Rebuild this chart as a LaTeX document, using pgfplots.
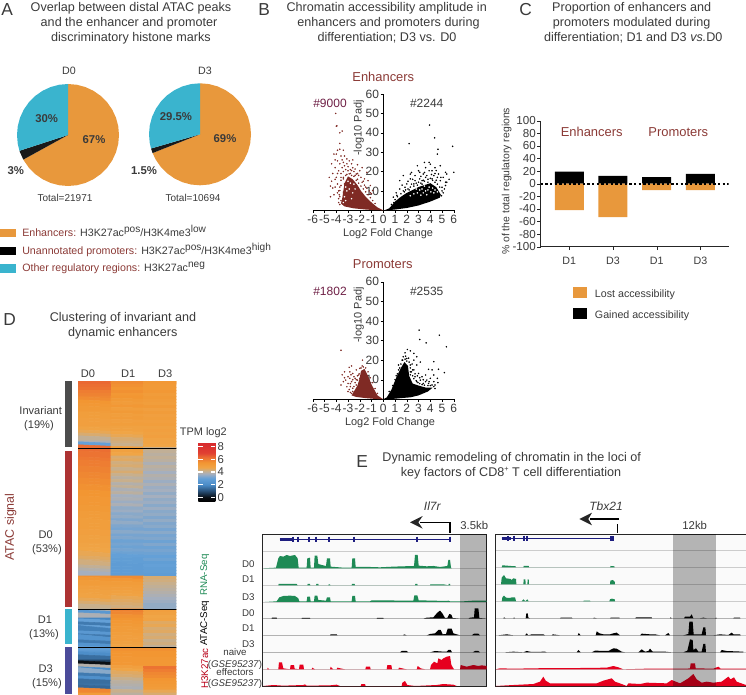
\documentclass[border=0pt]{standalone}
\usepackage{fontspec}
\setmainfont{Liberation Sans}
\usepackage{pgfplots}
\pgfplotsset{compat=1.18}
\definecolor{txt}{HTML}{3A3A3A}
\definecolor{orng}{HTML}{E8983C}
\definecolor{cyn}{HTML}{3AB4CE}
\definecolor{brn}{HTML}{8B3A36}
\definecolor{prp}{HTML}{6E1F45}
\definecolor{volc}{HTML}{7F2A24}
\definecolor{navy}{HTML}{1E1E80}
\definecolor{grn}{HTML}{1E8A55}
\definecolor{rd}{HTML}{E6001E}
\newcommand\fs[1]{\fontsize{#1}{#1}\selectfont}
% small raised text, nearly full size as in the figure
\newcommand\sps[1]{\raisebox{0.42em}{\fs{7.6}#1}}
\newcommand\T[4][]{\node[anchor=base,#1] at (#2,#3) {#4};}
% axis box given in pixels of the reference: left, top, right, bottom
\pgfplotsset{
  box/.style n args={4}{scale only axis, anchor=south west,
    at={(#1*0.75pt,{(694-#4)*0.75pt})},
    width=#3*0.75pt-#1*0.75pt, height=#4*0.75pt-#2*0.75pt},
  pie/.style={hide axis, xmin=-1, xmax=1, ymin=-1, ymax=1},
  volcano/.style={xmin=-6, xmax=6, ymin=0, ymax=60,
    axis x line=bottom, axis y line=center, axis line style={-, line width=0.7pt},
    tick align=outside, major tick length=2pt, tick style={black},
    xtick={-6,...,6}, ytick={10,20,...,60},
    hide obscured x ticks=false, hide obscured y ticks=false,
    xlabel={}, ylabel={}, xticklabel style={yshift=-0.5pt},
    tick label style={font=\fs{9}, text=txt, inner sep=1pt},
    /pgf/number format/assume math mode=true, clip=false},
  spots/.style={only marks, mark=*, mark size=0.35pt, #1, mark options={draw=none, fill=#1}},
  track/.style={#1, fill=#1, draw=none, forget plot},
  panel/.style={xtick=\empty, ymin=433, ymax=888, y dir=reverse,
    ymajorgrids, major tick length=0pt, yticklabels={},
    grid style={gray!40, line width=0.4pt},
    axis line style={gray!30!black, line width=0.7pt},
    axis background/.style={fill=white!98!black}},
  colormap={atac}{
    rgb255(0cm)=(0,0,0); rgb255(0.7cm)=(10,15,20); rgb255(1.7cm)=(40,80,120);
    rgb255(2.7cm)=(74,140,200); rgb255(3.7cm)=(100,160,215); rgb255(4.4cm)=(165,175,190);
    rgb255(4.9cm)=(200,175,140); rgb255(5.4cm)=(240,165,70); rgb255(6.2cm)=(242,150,50);
    rgb255(7cm)=(235,110,50); rgb255(7.7cm)=(225,65,50); rgb255(9.4cm)=(215,40,45)},
}
\begin{document}
\begin{tikzpicture}[x=0.75pt,y=0.75pt]
\path[use as bounding box] (0,0) rectangle (746,694);

% --- A: pies, slices as outline points (fractions 67/3/30 and 69/1.5/29.5)
\begin{axis}[box={17}{84}{119}{186}, pie]
\addplot[fill=orng,draw=none] coordinates {(0,0)(0,1)(.174,.985)(.342,.94)(.5,.866)(.643,.766)(.766,.643)(.866,.5)(.94,.342)(.985,.174)(1,0)(.985,-.174)(.94,-.342)(.866,-.5)(.766,-.643)(.643,-.766)(.5,-.866)(.342,-.94)(.174,-.985)(0,-1)(-.174,-.985)(-.342,-.94)(-.5,-.866)(-.643,-.766)(-.766,-.643)(-.866,-.5)(-.876,-.482)};
\addplot[fill=black!90,draw=none] coordinates {(0,0)(-.876,-.482)(-.94,-.342)(-.951,-.309)};
\addplot[fill=cyn,draw=none] coordinates {(0,0)(-.951,-.309)(-.985,-.174)(-1,0)(-.985,.174)(-.94,.342)(-.866,.5)(-.766,.643)(-.643,.766)(-.5,.866)(-.342,.94)(-.174,.985)(0,1)};
\end{axis}
\begin{axis}[box={149}{83.3}{251}{185.3}, pie]
\addplot[fill=orng,draw=none] coordinates {(0,0)(0,1)(.174,.985)(.342,.94)(.5,.866)(.643,.766)(.766,.643)(.866,.5)(.94,.342)(.985,.174)(1,0)(.985,-.174)(.94,-.342)(.866,-.5)(.766,-.643)(.643,-.766)(.5,-.866)(.342,-.94)(.174,-.985)(0,-1)(-.174,-.985)(-.342,-.94)(-.5,-.866)(-.643,-.766)(-.766,-.643)(-.866,-.5)(-.93,-.368)};
\addplot[fill=black!90,draw=none] coordinates {(0,0)(-.93,-.368)(-.96,-.279)};
\addplot[fill=cyn,draw=none] coordinates {(0,0)(-.96,-.279)(-.985,-.174)(-1,0)(-.985,.174)(-.94,.342)(-.866,.5)(-.766,.643)(-.643,.766)(-.5,.866)(-.342,.94)(-.174,.985)(0,1)};
\end{axis}

% --- B: volcano plots; dense cores as outlines, sparse points read one by one
\begin{axis}[box={312.8}{94}{453.8}{210.3}, volcano]
\addplot[fill=volc,draw=none] coordinates {(0,0)(-.5,1.5)(-1,4)(-1.5,7)(-1.9,10)(-2.2,13)(-2.6,16)(-3,17.5)(-3.3,14)(-3.4,10)(-3.5,6)(-3.6,3.5)(-3.3,2)(-2.5,1)(-1.5,.4)(-.8,.1)};
\addplot[fill=black,draw=none] coordinates {(0.1,0)(.5,1)(1,4.5)(1.5,7)(2,9)(2.5,10.5)(3,12)(3.5,13)(4,14)(4.5,12)(4.9,8)(4.8,6.5)(4,4.5)(3,2.5)(2,1.2)(1,.4)(.3,0)};
\addplot[spots=volc] coordinates {(-4.05,50)(-3.95,43.6)(-3.7,40)(-4,43.4)(-3.5,40.9)(-3.7,34.5)(-4.2,29)(-4,29)(-3.6,28)(-3.9,25.5)(-3.3,28)(-2.9,25.5)(-3.4,24.7)(-4.1,22)(-3.8,20.4)(-3.1,24)(-2.7,24)(-4.3,19)(-4.6,17)(-4,17)(-3.6,19)(-3.4,16.2)(-3,20.4)(-3.9,13.6)(-3.6,12.8)(-3.3,13.6)(-3.7,10.2)(-3.6,5)(-3.4,9.4)(-1.4,19.6)(-1.1,12.8)(-1.6,16.2)(-1.3,15.3)(-2,20.4)(-2.3,18.7)(-2.4,21.3)(-.9,10.2)(-1,8.5)(-2.6,22)(-2.8,19)(-3.2,18)(-3.5,22)(-2.2,16)(-1.8,14.5)(-1.6,13)(-4.4,15)(-4.1,12)(-3.9,9)(-4.2,8)(-3.8,6)(-3.7,7)(-4.5,7)
(-3.1,18.5)(-2.9,18.8)(-2.7,18)(-2.5,17.5)(-2.3,15.5)(-2.1,14)(-1.9,12.5)(-1.7,11)(-1.5,9.5)(-1.3,8)(-1.1,6.5)(-.9,5)(-.7,3.5)(-3.4,17)(-3.6,15.5)(-3.7,12)(-3.8,10)(-3.75,8)(-3.8,4)(-3.7,3)(-2.2,19)(-2.5,20)(-2.8,21)(-3,22.5)(-3.2,21)(-3.4,20)(-3.6,17)(-3.9,19)(-4.1,16)(-4.3,11.5)(-4.5,12.5)(-1.2,10)(-1.5,12)(-1.9,17)(-2.1,18)(-1.7,15)(-1.4,11.5)(-1.1,9)(-2.4,18)(-2.7,20.5)(-3.3,23)(-3.7,24)(-3.1,26.5)(-2.6,26)(-2.2,23.5)(-1.8,22)(-4.4,24)(-3.9,31)(-3.4,31)(-3.7,31.5)(-4.1,26)(-3.5,26)};
\addplot[spots=white] coordinates {(-3.2,12)(-2.8,14)(-3,15)(-3.1,10)(-3.3,7)(-2.9,11)(-2.5,13.5)(-3.2,5)(-3.4,4)(-2.7,6)(-2.4,11)(-2.6,9)};
\addplot[spots=black] coordinates {(3.94,44)(4.37,37.4)(2.2,34.4)(5.9,33)(4.65,31.5)(4.6,29)(6,19.6)(3.9,24.7)(4.85,23)(2.9,23)(3.6,22)(4.15,20.4)(5.3,19.6)(2.3,18.7)(1.4,15.3)(1.7,17.9)(2,13.6)(2.7,17.9)(3.1,19.6)(3.4,18.7)(3.9,20.4)(4.3,17.9)(4.7,18.7)(4.85,15.3)(5.3,14.5)(5.1,17)(5.4,18.7)(5,11.9)(5.3,12.8)(4.4,22)(3.5,24.7)(4,23.8)(3,20.4)(2.3,16.2)(2.7,15.3)(3.1,16.2)(3.6,17)(4.15,16.2)(4.6,17)(1.4,11)(1.15,7.7)(.85,6.8)(1.85,11.9)(2.6,13.6)(3.3,15.3)(3.7,17.9)(5.4,14.5)(5.6,16)
(1,5.5)(1.2,7)(1.5,8.5)(1.7,10)(1.9,10.5)(2.1,11)(2.3,12)(2.4,13.5)(2.6,12.5)(2.8,14)(3,14.5)(3.2,14)(3.4,15.5)(3.5,15)(3.8,16)(4,16.5)(4.2,15.5)(4.4,14.5)(4.6,13.5)(4.8,12)(5,10)(5.1,9)(4.95,7.5)(5.2,11)(4.5,15.5)(3.8,14.5)(3.3,13.5)(2.9,13)(2.2,10.5)(1.8,9.5)(.7,3)(.9,4)(1.3,5.5)(2.5,16)(3.2,17.5)(3.5,19.5)(4.1,18.5)(4.4,19)(4.9,17)(4.5,20.5)(2.1,15)(2.4,19.5)(1.6,13)(1.1,9)};
\addplot[spots=white] coordinates {(2.9,9)(3.3,11)(3.6,10)(3.9,12)(4.2,11.5)(4.3,9)(3.5,12.5)(3.1,10.5)(2.6,8.5)(2.3,7.5)(3.8,10.5)(4.05,9.5)(3.4,9)(2.8,11)(4.4,10.5)(4.6,9.5)(3.7,8)(3.2,7.8)};
\end{axis}
\begin{axis}[box={312.8}{281.7}{453.8}{399.3}, volcano]
\addplot[fill=volc,draw=none] coordinates {(0,0)(-.5,2)(-1,7.5)(-1.3,12)(-1.6,15.5)(-1.9,14.5)(-2,11)(-2.2,7)(-2.5,4)(-2.7,2)(-2.3,1.2)(-1.5,.6)(-.7,.2)};
\addplot[fill=black,draw=none] coordinates {(0,0)(.3,1)(.7,5)(1.1,11)(1.5,16)(1.8,19)(2.1,17)(2.2,12)(2.5,8)(3,7)(3.6,6)(4.2,6)(3.8,4)(3,2)(2.3,1)(1.5,.6)(.8,.2)};
\addplot[spots=volc] coordinates {(-3.6,25)(-1.77,20)(-2.7,17)(-2.9,16.3)(-3.3,14)(-2.85,14)(-2.3,15)(-2,15.8)(-2.6,13.2)(-3,11.5)(-3.4,9)(-3.2,9.8)(-3.6,7.3)(-2.7,9)(-2.4,10.7)(-2.1,12.4)(-3,8.1)(-2.6,5.6)(-2.3,7.3)(-2.7,3)(-2.4,3.9)(-2,10.7)(-2.85,10.7)(-2.2,9.8)(-3.1,6.4)
(-1.5,16)(-1.3,14)(-1.1,11)(-.9,8.5)(-.7,5.5)(-.5,3)(-2.05,13)(-2.2,12)(-2.3,10)(-2.4,8.5)(-2.5,6.5)(-2.6,4)(-2.8,3.5)(-2.9,5)(-3,4)(-2.8,6.5)(-1.9,16)(-1.8,17)(-1.7,16.5)(-2.5,11.5)(-2.6,10)(-3.3,11)(-3.5,12.5)(-2.8,8)(-2.75,12.5)};
\addplot[spots=black] coordinates {(3.05,35.3)(4.77,32.7)(3.1,30.5)(3.65,28.8)(5.37,26.8)(2.05,25.4)(2.3,24.7)(1.85,23.7)(2.6,23.4)(2.85,21.7)(4.3,19.2)(3.85,15.3)(4.15,15)(4.7,15.3)(5.2,13.6)(4.3,12.4)(4.6,10.7)(3.15,19)(2.85,17.5)(2.6,20)(1.6,20)(1.3,17.5)(2.3,17.5)(2.6,15)(3,13.2)(3.3,11.5)(3.6,12.4)(4,10.7)(4.3,9)(4.4,7.3)(3.7,9.8)(3.15,9.8)(2.7,11.5)(2.3,14)(2,20.8)(1.7,21.7)(2.85,9)(3.4,8.1)(3.85,8.1)(4.15,7.3)(4.65,8.5)
(.5,4)(.8,7)(1,10)(1.2,13)(1.4,16)(1.5,18)(1.65,20)(1.85,20.5)(2,19.5)(2.2,19)(2.3,16)(2.4,14)(2.5,12)(2.6,10.5)(2.8,9.5)(2.95,8.5)(3.1,8)(3.3,7.5)(3.5,7.2)(3.8,7)(4,7)(4.3,6.5)(4.4,5.5)(2.3,12.5)(2.5,15)(2.7,13)(2.9,12)(3.1,11)(3.4,10)(3.6,9)(3.9,9)(1.9,22)(1.3,15)(1.1,12)(2.15,21)(2.45,18)};
\end{axis}

% --- C: bars
\begin{axis}[box={540.7}{120.7}{728.7}{246.7},
  xmin=-0.654, xmax=3.648, ymin=-100, ymax=100,
  axis x line=bottom, axis y line=left, axis line style={-, gray!30!black, line width=0.6pt},
  tick align=outside, major tick length=2.5pt, tick style={gray!30!black},
  xtick={0,1,2,3}, xticklabels={D1,D3,D1,D3}, ytick={-100,-80,...,100},
  xticklabel style={font=\fs{8}, text=txt, yshift=-1.5pt},
  yticklabel style={font=\fs{8.7}, text=txt, inner sep=1pt},
  /pgf/number format/assume math mode=true]
\addplot[ybar, bar width=21.75pt, bar shift=0pt, fill=black, draw=none] coordinates {(0,19)(1,12.5)(2,10.5)(3,15.5)};
\addplot[ybar, bar width=21.75pt, bar shift=0pt, fill=orng, draw=none] coordinates {(0,-42)(1,-53)(2,-10)(3,-10)};
\addplot[black, line width=1.3pt, dash pattern=on 1.8pt off 1.7pt] coordinates {(-0.654,0)(3.648,0)};
\end{axis}

% --- D: heat map, three values a row from the top (D0, D1, D3), rows 3 px high
\begin{axis}[box={78}{381}{176.3}{694},
  xmin=0.5, xmax=3.5, ymin=381, ymax=694, y dir=reverse,
  ticks=none, axis line style={draw=none}, clip=true,
  colormap name=atac, point meta min=-0.7, point meta max=8.7,
  colorbar, colorbar style={at={(parent axis.north east)}, anchor=north west,
    xshift=8pt, yshift=-46pt, width=12.75pt, height=44.5pt,
    y dir=normal, ytick={0,2,...,8}, tick style={white, line width=0.9pt},
    major tick length=3.5pt, tick align=inside, axis line style={draw=none},
    yticklabel style={font=\fs{8.5}, text=txt, inner sep=1.5pt},
    /pgf/number format/assume math mode=true}]
\addplot[matrix plot*, mesh/cols=3, point meta=\thisrowno{0}]
 table[row sep=\\, header=false, x expr={mod(\coordindex,3)+1}, y expr={382.5+3*floor(\coordindex/3)}] {
6.4\\5.7\\5.4\\ 6.3\\5.6\\5.3\\ 6.2\\5.5\\5.3\\ 6.0\\5.6\\5.4\\ 5.9\\5.4\\5.2\\ 5.8\\5.5\\5.3\\
5.7\\5.3\\5.2\\ 5.5\\5.2\\5.1\\ 5.4\\5.4\\5.3\\ 5.3\\5.1\\5.0\\ 5.2\\5.3\\5.2\\ 5.1\\5.1\\5.0\\
5.1\\5.2\\5.1\\ 5.0\\5.0\\5.0\\ 5.0\\5.1\\5.1\\ 4.9\\4.9\\4.9\\ 4.8\\4.9\\5.0\\ 4.6\\4.7\\4.9\\
4.4\\4.6\\5.0\\ 4.1\\4.4\\4.8\\ 3.8\\4.3\\4.8\\ 3.0\\4.2\\4.7\\
6.3\\5.0\\4.2\\ 6.3\\4.9\\4.1\\ 6.2\\4.7\\4.0\\ 6.2\\4.4\\4.1\\ 6.1\\4.5\\4.0\\ 6.0\\4.3\\3.8\\
6.0\\4.4\\4.0\\ 5.9\\4.2\\3.9\\ 5.9\\4.4\\3.7\\ 5.8\\4.2\\3.9\\ 5.8\\4.0\\3.8\\ 5.7\\4.2\\3.6\\
5.7\\3.9\\3.8\\ 5.6\\4.1\\3.6\\ 5.6\\3.8\\3.7\\ 5.5\\4.0\\3.5\\ 5.5\\3.7\\3.7\\ 5.4\\3.8\\3.5\\
5.4\\3.6\\3.6\\ 5.4\\3.8\\3.4\\ 5.3\\3.5\\3.6\\ 5.3\\3.6\\3.4\\ 5.2\\3.4\\3.5\\ 5.2\\3.5\\3.3\\
5.2\\3.3\\3.5\\ 5.1\\3.5\\3.3\\ 5.1\\3.3\\3.4\\ 5.1\\3.2\\3.2\\ 5.0\\3.4\\3.4\\ 5.0\\3.2\\3.2\\
4.9\\3.3\\3.3\\ 4.9\\3.1\\3.1\\ 4.8\\3.2\\3.3\\ 4.8\\3.1\\3.1\\ 4.7\\3.2\\3.2\\ 4.7\\3.1\\3.1\\
4.6\\3.0\\3.0\\ 4.5\\2.9\\3.1\\ 4.4\\2.9\\2.9\\ 4.3\\2.8\\3.0\\ 4.1\\2.8\\2.9\\ 3.9\\2.8\\2.9\\ 3.7\\2.8\\2.8\\
5.6\\5.7\\4.4\\ 5.4\\5.4\\4.3\\ 5.2\\5.2\\4.2\\ 5.1\\5.1\\4.1\\ 5.0\\5.0\\4.0\\ 4.9\\4.9\\3.9\\
4.9\\4.8\\3.8\\ 4.8\\4.6\\3.7\\ 4.6\\4.5\\3.6\\ 4.4\\4.4\\3.5\\ 4.2\\4.3\\3.5\\
3.9\\5.9\\5.0\\ 2.6\\5.8\\4.9\\ 3.8\\5.6\\4.7\\ 1.9\\5.5\\4.8\\ 3.0\\5.4\\4.5\\ 1.7\\5.3\\4.6\\
3.0\\5.2\\4.4\\ 1.8\\5.2\\4.5\\ 2.6\\5.1\\4.3\\ 1.7\\5.0\\4.4\\ 2.4\\5.0\\4.2\\ 1.7\\4.9\\4.3\\ 2.4\\4.8\\4.1\\
2.8\\5.6\\5.6\\ 2.5\\5.5\\5.5\\ 2.1\\5.5\\5.5\\ 1.5\\5.4\\5.4\\ 0.8\\5.4\\5.4\\ 0.0\\5.4\\5.4\\
3.9\\5.0\\6.2\\ 2.0\\4.7\\6.0\\ 3.4\\4.5\\5.8\\ 1.7\\4.4\\5.7\\ 2.2\\4.2\\5.5\\ 1.5\\4.0\\5.4\\ 1.6\\3.9\\5.3\\ 1.4\\3.8\\5.2\\
5.8\\4.2\\4.6\\ 5.2\\4.0\\4.4\\
};
\addplot[black, line width=0.7pt] coordinates {(0.5,448)(3.55,448)};
\addplot[black, line width=0.7pt] coordinates {(0.5,609)(3.55,609)};
\addplot[black, line width=0.7pt] coordinates {(0.5,647.5)(3.55,647.5)};
\end{axis}

% --- E: signal tracks; coordinates are positions inside the browser panel
\begin{axis}[box={262.3}{534.3}{486.7}{686}, panel, xmin=97, xmax=770,
  ytick={485,535,586,636,686,736,787,838}]
\addplot[track=grn] coordinates {(100,535)(138,533)(145,505)(150,498)(160,500)(170,495)(180,498)(195,495)(203,505)(206,533)(230,533)(232,505)(240,503)(242,533)(252,533)(254,497)(262,497)(265,522)(275,525)(288,528)(291,505)(300,505)(302,530)(340,533)(365,533)(367,505)(375,505)(377,531)(420,531)(450,532)(490,530)(520,529)(552,528)(555,495)(563,495)(566,527)(590,529)(610,528)(630,531)(652,528)(655,510)(660,510)(663,533)(665,535)};
\addplot[track=grn] coordinates {(145,586)(146,582)(200,582)(203,586)(232,586)(233,582)(240,582)(241,586)(258,586)(259,582)(265,582)(266,586)(295,586)(296,583)(300,583)(301,586)(365,586)(366,582)(374,582)(375,586)(555,586)(556,582)(562,582)(563,586)(600,586)(601,583)(640,583)(655,586)(656,582)(660,582)(661,586)};
\addplot[track=grn] coordinates {(105,636)(140,634)(148,622)(160,618)(180,617)(195,618)(205,625)(208,634)(230,634)(232,620)(240,620)(242,634)(252,634)(254,617)(262,617)(265,630)(288,632)(291,622)(300,622)(302,634)(365,634)(367,618)(375,618)(377,634)(420,634)(425,631)(550,632)(553,616)(562,616)(566,631)(650,633)(655,632)(660,634)(700,634)(730,632)(770,632)(770,636)};
\addplot[track=black] coordinates {(100,686)(125,686)(126,683)(140,683)(141,686)(215,686)(216,684)(240,684)(241,686)(440,686)(441,684)(460,684)(461,686)(580,686)(590,683)(610,682)(622,668)(630,662)(637,670)(645,684)(652,684)(658,672)(664,674)(668,684)(690,686)(715,686)(720,683)(732,682)(734,655)(745,655)(748,684)(770,686)};
\addplot[track=black] coordinates {(100,736)(300,736)(302,733)(320,733)(322,736)(520,736)(522,733)(530,736)(590,736)(600,732)(615,730)(625,720)(632,720)(638,733)(648,732)(653,716)(665,716)(670,730)(690,736)(725,736)(732,731)(745,731)(750,736)};
\addplot[track=black] coordinates {(100,787)(510,787)(515,783)(530,783)(535,787)(600,787)(615,783)(640,785)(650,785)(655,780)(662,780)(666,787)(728,787)(735,783)(745,783)(750,787)};
\addplot[track=rd] coordinates {(100,838)(112,838)(113,833)(118,838)(145,838)(147,817)(156,817)(160,835)(180,838)(182,825)(192,825)(194,836)(207,838)(209,824)(220,824)(222,838)(245,838)(247,833)(255,838)(300,838)(302,830)(310,838)(320,838)(322,833)(345,838)(406,838)(408,830)(420,830)(422,838)(470,838)(472,825)(484,825)(486,838)(505,838)(507,833)(530,838)(560,838)(563,828)(572,835)(585,838)(600,838)(603,825)(612,815)(622,820)(625,805)(635,810)(640,805)(650,800)(660,798)(664,825)(672,838)(690,838)(692,825)(710,830)(730,825)(745,828)(755,826)(770,828)(770,838)};
\addplot[track=rd] coordinates {(100,888)(130,885)(160,887)(220,885)(225,883)(230,887)(300,886)(320,884)(330,888)(392,888)(394,882)(405,882)(407,888)(515,888)(517,878)(525,873)(532,885)(555,888)(620,885)(640,882)(670,884)(680,888)};
\addplot[navy, line width=0.9pt] coordinates {(149,448)(660,448)};
\addplot[navy, line width=2.2pt] coordinates {(149,448)(185,448)};
\addplot[navy, line width=1.5pt, unbounded coords=jump] coordinates {(190,440)(190,457)(203,nan)(203,440)(203,457)(237,nan)(237,440)(237,457)(258,nan)(258,440)(258,457)(296,nan)(296,440)(296,457)(371,nan)(371,440)(371,457)(560,nan)(560,440)(560,457)(660,nan)(660,440)(660,457)};
\fill[black,opacity=0.28] (axis cs:690,433) rectangle (axis cs:770,888);
\end{axis}
\begin{axis}[box={495.7}{534.3}{746}{686}, panel, xmin=47, xmax=798,
  ytick={482,532,583,634,685,736,787,838}]
\addplot[track=grn] coordinates {(65,532)(67,526)(80,527)(92,528)(107,529)(108,532)(130,532)(131,528)(146,528)(147,532)(390,532)(392,528)(403,529)(404,532)};
\addplot[track=grn] coordinates {(63,583)(65,563)(72,555)(78,565)(92,567)(95,570)(100,565)(108,567)(109,583)(130,583)(131,568)(136,568)(137,583)(142,583)(143,568)(146,568)(147,583)(390,583)(391,572)(398,570)(404,575)(405,583)};
\addplot[track=grn] coordinates {(65,634)(67,622)(72,617)(78,623)(90,624)(95,622)(105,622)(108,634)(125,634)(130,628)(136,634)(142,628)(146,634)(310,634)(311,632)(330,632)(331,634)(388,634)(390,628)(396,626)(404,628)(405,634)};
\addplot[track=black] coordinates {(70,685)(72,682)(76,685)(100,685)(102,682)(105,685)(137,685)(139,670)(143,670)(145,683)(150,685)(240,685)(242,683)(275,683)(277,685)(340,685)(342,683)(350,685)(390,685)(392,683)(418,683)(419,685)(466,685)(468,682)(515,682)(516,685)(570,685)(572,682)(575,685)(612,685)(615,680)(630,680)(635,673)(640,685)(660,685)(670,683)(680,685)(705,685)(708,683)(711,685)(760,685)(762,683)(780,683)(781,685)};
\addplot[track=black] coordinates {(55,736)(80,733)(100,736)(135,736)(140,730)(145,736)(155,733)(190,733)(195,736)(215,736)(218,733)(240,736)(293,736)(296,729)(302,736)(347,736)(350,724)(358,730)(370,733)(390,733)(400,730)(410,728)(420,736)(480,736)(485,731)(510,733)(525,733)(540,736)(555,736)(565,729)(570,736)(610,736)(625,732)(628,695)(638,695)(641,733)(665,733)(670,712)(676,712)(678,736)(700,736)(720,733)(745,735)(755,728)(760,733)(780,733)(782,736)};
\addplot[track=black] coordinates {(75,787)(100,785)(130,787)(140,783)(155,786)(195,785)(200,787)(290,787)(295,780)(302,787)(335,787)(345,782)(385,783)(400,775)(410,776)(425,785)(435,787)(475,787)(485,778)(495,785)(505,783)(510,776)(518,785)(555,785)(575,787)(610,787)(622,782)(630,748)(638,750)(640,780)(648,775)(655,785)(665,785)(670,762)(676,762)(678,787)(720,787)(725,780)(740,783)(790,785)(790,787)};
\addplot[track=rd] coordinates {(47,838)(60,835)(100,836)(160,835)(220,834)(300,834)(380,833)(400,828)(415,832)(430,838)(500,836)(620,836)(630,835)(632,820)(645,820)(647,835)(700,836)(715,830)(722,836)(798,836)(798,838)};
\addplot[track=rd] coordinates {(47,888)(100,885)(160,882)(180,875)(190,860)(197,872)(210,880)(300,880)(350,880)(370,872)(395,865)(405,875)(425,882)(440,888)(445,880)(480,882)(500,878)(560,880)(575,870)(600,880)(625,865)(640,852)(650,868)(665,878)(680,875)(700,878)(725,875)(745,860)(752,868)(762,862)(770,875)(798,885)(798,888)};
\addplot[navy, line width=0.9pt] coordinates {(65,445)(400,445)};
\addplot[navy, line width=2.2pt] coordinates {(65,445)(92,445)};
\addplot[navy, line width=1.5pt, unbounded coords=jump] coordinates {(85,437)(85,453)(101,nan)(101,437)(101,453)(133,nan)(133,437)(133,453)(141,nan)(141,437)(141,453)};
\addplot[navy, line width=3.6pt] coordinates {(390,445)(401,445)};
\fill[black,opacity=0.28] (axis cs:578,433) rectangle (axis cs:708,888);
\end{axis}

% --- text and furniture, in pixels of the reference measured from the top
\begin{scope}[y=-0.75pt, yshift=520.5pt, every node/.style={inner sep=0pt, text=txt}, font=\fs{9.45}]
% panel letters
\T[anchor=base west,font=\fs{13}]{1}{15.5}{A}
\T[anchor=base west,font=\fs{13}]{258}{15.5}{B}
\T[anchor=base west,font=\fs{13}]{519}{15.5}{C}
\T[anchor=base west,font=\fs{13}]{3}{325}{D}
\T[anchor=base west,font=\fs{13}]{356}{467}{E}
% A
\T{131}{12}{Overlap between distal ATAC peaks}
\T{129}{27}{and the enhancer and promoter}
\T{131}{42}{discriminatory histone marks}
\T[font=\fs{8}]{69}{75}{D0}
\T[font=\fs{8}]{205}{75}{D3}
\begin{scope}[font=\fs{8.5}\bfseries]
\T{46.7}{123}{30\%}
\T{94}{144}{67\%}
\T{15.7}{174.5}{3\%}
\T{176}{121}{29.5\%}
\T{225}{142.5}{69\%}
\T{144}{174.5}{1.5\%}
\end{scope}
\T[font=\fs{7.5}]{65}{201}{Total=21971}
\T[font=\fs{7.5}]{193}{201}{Total=10694}
\fill[orng] (0,228.7) rectangle (16,237.3);
\fill[black] (0,246.7) rectangle (16,255);
\fill[cyn] (0,264) rectangle (16,272.7);
\begin{scope}[font=\fs{8}]
\T[anchor=base west]{22}{236.5}{\textcolor{brn}{Enhancers:} H3K27ac\sps{pos}/H3K4me3\sps{low}}
\T[anchor=base west]{22}{254.5}{\textcolor{brn}{Unannotated promoters:} H3K27ac\sps{pos}/H3K4me3\sps{high}}
\T[anchor=base west]{22}{271.7}{\textcolor{brn}{Other regulatory regions:} H3K27ac\sps{neg}}
\end{scope}
% B
\T{386.7}{12}{Chromatin accessibility amplitude in}
\T{388.5}{27}{enhancers and promoters during}
\T{387}{42}{differentiation; D3 vs. D0}
\T[font=\fs{9.7},text=brn]{383.3}{82}{Enhancers}
\T[font=\fs{9},text=prp]{330}{108}{\#9000}
\T[font=\fs{9}]{426.7}{108}{\#2244}
\T[font=\fs{8.2}]{388}{236.5}{Log2 Fold Change}
\node[font=\fs{8.2},rotate=90] at (358.7,128) {-log10 Padj};
\T[font=\fs{9.7},text=brn]{382.7}{268}{Promoters}
\T[font=\fs{9},text=prp]{330}{295}{\#1802}
\T[font=\fs{9}]{426.7}{295}{\#2535}
\T[font=\fs{8.2}]{390}{425.5}{Log2 Fold Change}
\node[font=\fs{8.2},rotate=90] at (358.7,315) {-log10 Padj};
% C
\T{631.7}{12}{Proportion of enhancers and}
\T{631.7}{27}{promoters modulated during}
\T{633.3}{42}{differentiation; D1 and D3 \textit{vs.}D0}
\T[font=\fs{9.7},text=brn]{591.7}{136.5}{Enhancers}
\T[font=\fs{9.7},text=brn]{678.3}{136.5}{Promoters}
\node[font=\fs{7.8},rotate=90] at (506.7,181.3) {\% of the total regulatory regions};
\fill[orng] (573.3,286.7) rectangle (587.3,297.7);
\fill[black] (573.3,308.3) rectangle (587.3,319);
\T[anchor=base west,font=\fs{8}]{594.7}{297.3}{Lost accessibility}
\T[anchor=base west,font=\fs{8}]{594.7}{318}{Gained accessibility}
% D
\T{123}{321}{Clustering of invariant and}
\T{122.7}{336}{dynamic enhancers}
\begin{scope}[font=\fs{8.3}]
\T{88}{377.5}{D0}
\T{128.3}{377.5}{D1}
\T{165.3}{377.5}{D3}
\T{40.7}{414.5}{Invariant}
\T{39}{428}{(19\%)}
\T{45.7}{538.5}{D0}
\T{47}{552.5}{(53\%)}
\T{45}{623.5}{D1}
\T{44}{637.5}{(13\%)}
\T{45.7}{672}{D3}
\T{47}{686}{(15\%)}
\T[font=\fs{8.2}]{203.3}{435}{TPM log2}
\end{scope}
\fill[gray!60!black] (65.3,380.7) rectangle (72,446.7);
\fill[red!60!black!80!white] (65.3,450.7) rectangle (72,606.7);
\fill[cyn] (65.3,609.3) rectangle (72,644);
\fill[navy!80!white] (65.3,647.3) rectangle (72,694);
\node[font=\fs{9.3},text=brn,rotate=90] at (10.7,527) {ATAC signal};
% E side labels
\begin{scope}[font=\fs{7.3}]
\node[text=grn,rotate=90] at (204.7,575) {RNA-Seq};
\node[text=black,rotate=90] at (204.7,623.3) {ATAC-Seq};
\node[text=rd!80!black,rotate=90] at (204.7,668.7) {H3K27ac};
\T{248.3}{567}{D0}
\T{248.3}{582}{D1}
\T{248.3}{600.5}{D3}
\T{248.3}{616.5}{D0}
\T{248.3}{631}{D1}
\T{248.3}{647}{D3}
\T{235}{655}{naive}
\T{235}{667}{(\textit{GSE95237})}
\T{235}{675}{effectors}
\T{235}{686}{(\textit{GSE95237})}
\end{scope}
% E title and gene arrows
\T{511.7}{461.7}{Dynamic remodeling of chromatin in the loci of}
\T{511}{476.7}{key factors of CD8\raisebox{0.4em}{\fs{5.5}+} T cell differentiation}
\T[font=\fs{9}\itshape]{432.3}{510}{Il7r}
\T[font=\fs{9}\itshape]{606}{510}{Tbx21}
\T[font=\fs{8.5}]{474.3}{529}{3.5kb}
\T[font=\fs{8.5}]{694.7}{529}{12kb}
\draw[black,line width=1pt] (450,533) -- (450,522.3) -- (420,522.3);
\fill[black!85] (410,522.3) -- (422.7,516) -- (418.3,522.3) -- (422.7,528.7) -- cycle;
\draw[black,line width=1pt] (619,519) -- (590,519);
\fill[black!85] (579.3,519) -- (592,512.7) -- (588.3,519) -- (592,525.3) -- cycle;
\draw[black,line width=1pt] (617.7,524) -- (617.7,532.7);
\end{scope}
\end{tikzpicture}
\end{document}
